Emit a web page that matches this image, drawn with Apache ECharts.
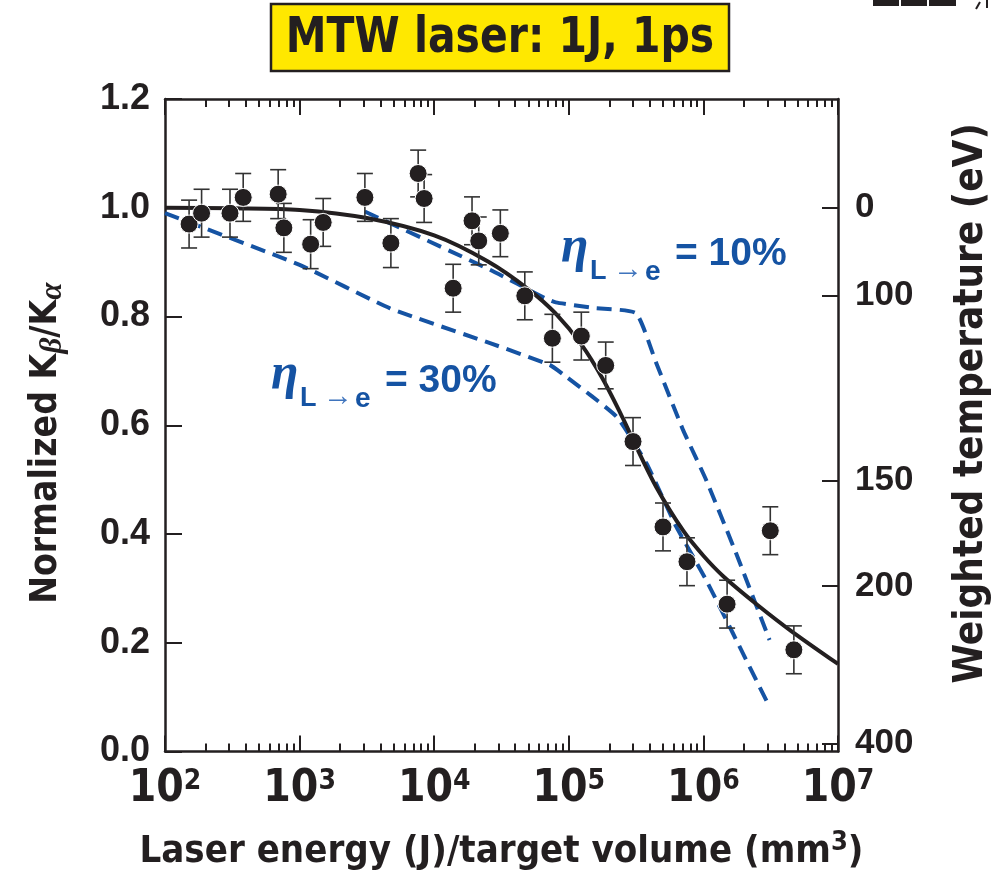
<!DOCTYPE html>
<html>
<head>
<meta charset="utf-8">
<script src="https://cdn.jsdelivr.net/npm/echarts@6/dist/echarts.min.js"></script>
<style>
  html, body { margin: 0; padding: 0; background: #fff; }
  #chart { width: 1000px; height: 875px; }
</style>
</head>
<body>
<div id="chart"></div>
<script>
// Measured normalized Kβ/Kα ratios vs. laser energy per target volume (J/mm^3)
const energyPerVolume = [151, 187, 304, 381, 693, 764, 1208, 1497, 3055, 4766, 7600, 8418,
  13830, 19100, 21420, 31000, 47100, 75500, 123900, 188000, 300000, 501000, 755000,
  1500000, 3140000, 4700000];
const ratio = [0.970, 0.990, 0.990, 1.019, 1.025, 0.963, 0.933, 0.973, 1.019, 0.935, 1.063, 1.017,
  0.852, 0.976, 0.939, 0.953, 0.838, 0.760, 0.764, 0.710, 0.570, 0.413, 0.349,
  0.271, 0.406, 0.187];
const ratioErr = [0.044, 0.044, 0.044, 0.044, 0.045, 0.045, 0.045, 0.044, 0.044, 0.045, 0.043, 0.044,
  0.044, 0.044, 0.044, 0.043, 0.044, 0.044, 0.044, 0.043, 0.044, 0.044, 0.044,
  0.044, 0.044, 0.044];

// Fitted trend through the measurements
const fitX = [100, 316, 1000, 3160, 10000, 25100, 50100, 79400, 126000, 178000, 251000, 316000,
  447000, 708000, 1000000, 1410000, 2510000, 4470000, 10000000];
const fitY = [1.000, 0.999, 0.996, 0.981, 0.949, 0.901, 0.850, 0.806, 0.746, 0.686, 0.614, 0.561,
  0.486, 0.406, 0.360, 0.322, 0.270, 0.222, 0.161];

// Model curves for two laser-to-electron conversion efficiencies
const eta10X = [3050, 26000, 66000, 80000, 150000, 316000, 447000, 707000, 1050000, 1750000, 3100000];
const eta10Y = [0.993, 0.886, 0.834, 0.826, 0.816, 0.806, 0.714, 0.591, 0.499, 0.3645, 0.205];
const eta30X = [100, 1000, 4700, 26000, 72000, 96000, 226000, 377000, 630000, 1050000, 1660000, 3100000];
const eta30Y = [0.990, 0.895, 0.815, 0.751, 0.711, 0.689, 0.616, 0.530, 0.413, 0.315, 0.217, 0.082];

// Axis ticks
const decadeTicks = [1e2, 1e3, 1e4, 1e5, 1e6, 1e7];
const yTicks = [0, 0.2, 0.4, 0.6, 0.8, 1.0, 1.2];
const tempLabels = ['0', '100', '150', '200', '400'];
const tempTickRatio = [1.0, 0.838, 0.498, 0.304, 0.015];

const minorTicks = [];
for (let d = 0; d < decadeTicks.length - 1; d++) {
  for (let k = 2; k <= 9; k++) minorTicks.push(k * decadeTicks[d]);
}

const INK = '#231f20';
const BLUE = '#1553a3';
const NARROW = "'Liberation Sans Narrow','DejaVu Sans Condensed','Roboto Condensed','Arial Narrow',sans-serif";
const SANS = "'Liberation Sans',Arial,Helvetica,sans-serif";
const SERIF = "'Liberation Serif','DejaVu Serif',serif";

const chart = echarts.init(document.getElementById('chart'), null, { renderer: 'canvas' });

function xLogAxis(position, ticks, tickLen, withLine, extra) {
  return Object.assign({
    type: 'log', logBase: 10, min: 100, max: 1e7, position: position,
    axisLine: { show: withLine, onZero: false, lineStyle: { color: INK, width: 2.5 } },
    axisTick: { show: true, inside: true, length: tickLen, customValues: ticks,
      lineStyle: { color: INK, width: 2 } },
    axisLabel: { show: false },
    splitLine: { show: false },
    minorTick: { show: false }
  }, extra || {});
}

const errorBarData = energyPerVolume.map((x, i) => [x, ratio[i] - ratioErr[i], ratio[i] + ratioErr[i]]);
const pointData = energyPerVolume.map((x, i) => [x, ratio[i]]);
const zip = (xs, ys) => xs.map((x, i) => [x, ys[i]]);

// η_{L→e} = N% annotation
function etaLabel(x0, y0, pct) {
  return {
    type: 'group', x: x0, y: y0, silent: true,
    children: [
      { type: 'text', x: 0, y: 6, style: { text: 'η', fill: BLUE, font: 'italic bold 50px ' + SERIF, textVerticalAlign: 'middle' } },
      { type: 'text', x: 29, y: 30, style: { text: 'L', fill: BLUE, font: 'bold 27px ' + SANS, textVerticalAlign: 'middle' } },
      { type: 'text', x: 52, y: 28, style: { text: '→', fill: '#3f74bd', font: '30px sans-serif', textVerticalAlign: 'middle' } },
      { type: 'text', x: 84, y: 30, style: { text: 'e', fill: BLUE, font: 'bold 28px ' + SANS, textVerticalAlign: 'middle' } },
      { type: 'text', x: 114, y: 12, style: { text: '= ' + pct, fill: BLUE, font: 'bold 39px ' + SANS, textVerticalAlign: 'middle' } }
    ]
  };
}

const option = {
  animation: false,
  backgroundColor: '#fff',
  grid: { left: 165, right: 162, top: 99, bottom: 123.5, containLabel: false, outerBoundsMode: 'none' },
  xAxis: [
    xLogAxis('bottom', decadeTicks, 16, true, {
      name: 'Laser energy (J)/target volume (mm{sup|3})',
      nameLocation: 'middle', nameGap: 78,
      nameTextStyle: {
        color: INK, fontFamily: NARROW, fontWeight: 'bold', fontSize: 38,
        rich: { sup: { fontFamily: NARROW, fontWeight: 'bold', fontSize: 27, color: INK, verticalAlign: 'top', padding: [0, 0, 18, 0] } }
      },
      axisLabel: {
        show: true, customValues: decadeTicks, margin: 16, color: INK,
        formatter: v => '{b|10}{s|' + Math.round(Math.log10(v)) + '}',
        rich: {
          b: { fontFamily: NARROW, fontWeight: 'bold', fontSize: 44, color: INK },
          s: { fontFamily: NARROW, fontWeight: 'bold', fontSize: 28, color: INK, verticalAlign: 'top', padding: [0, 0, 16, 0] }
        }
      }
    }),
    xLogAxis('bottom', minorTicks, 8, false),
    xLogAxis('top', decadeTicks, 16, true),
    xLogAxis('top', minorTicks, 8, false)
  ],
  yAxis: [
    {
      type: 'value', min: 0, max: 1.2, interval: 0.2, position: 'left',
      axisLine: { show: true, onZero: false, lineStyle: { color: INK, width: 2.5 } },
      axisTick: { show: true, inside: true, length: 17, customValues: yTicks, lineStyle: { color: INK, width: 2 } },
      axisLabel: { show: true, customValues: yTicks, margin: 15, color: INK, fontFamily: SANS, fontWeight: 'bold', fontSize: 36,
        formatter: v => v.toFixed(1) },
      splitLine: { show: false },
      name: 'Normalized K{i|β}/K{i|α}',
      nameLocation: 'middle', nameRotate: 90, nameGap: 97,
      nameTextStyle: {
        color: INK, fontFamily: NARROW, fontWeight: 'bold', fontSize: 37, padding: [0, 36, 0, 0],
        rich: { i: { fontFamily: SERIF, fontStyle: 'italic', fontSize: 31, color: INK, verticalAlign: 'bottom', padding: [12, 0, 0, 0] } }
      }
    },
    {
      type: 'value', min: 0, max: 1.2, position: 'right',
      axisLine: { show: true, onZero: false, lineStyle: { color: INK, width: 2.5 } },
      axisTick: { show: true, inside: true, length: 16, customValues: tempTickRatio, lineStyle: { color: INK, width: 2 } },
      axisLabel: { show: true, customValues: tempTickRatio, margin: 17, color: INK, fontFamily: SANS, fontWeight: 'bold', fontSize: 35,
        formatter: v => {
          const i = tempTickRatio.findIndex(p => Math.abs(p - v) < 1e-6);
          return i >= 0 ? tempLabels[i] : '';
        } },
      splitLine: { show: false },
      name: 'Weighted temperature (eV)',
      nameLocation: 'middle', nameRotate: 90, nameGap: 114,
      nameTextStyle: { color: INK, fontFamily: NARROW, fontWeight: 'bold', fontSize: 40, padding: [0, 0, 0, 44] }
    }
  ],
  series: [
    {
      name: 'η 30%', type: 'line', xAxisIndex: 0, yAxisIndex: 0,
      data: zip(eta30X, eta30Y), showSymbol: false, smooth: 0.15, z: 2,
      lineStyle: { color: BLUE, width: 4, type: [15, 8] }
    },
    {
      name: 'η 10%', type: 'line', xAxisIndex: 0, yAxisIndex: 0,
      data: zip(eta10X, eta10Y), showSymbol: false, smooth: 0.15, z: 2,
      lineStyle: { color: BLUE, width: 4, type: [15, 8] }
    },
    {
      name: 'fit', type: 'line', xAxisIndex: 0, yAxisIndex: 0,
      data: zip(fitX, fitY), showSymbol: false, smooth: 0.3, z: 3,
      lineStyle: { color: INK, width: 4 }
    },
    {
      name: 'error', type: 'custom', xAxisIndex: 0, yAxisIndex: 0, z: 4,
      data: errorBarData,
      renderItem: (params, api) => {
        const x = api.value(0);
        const lo = api.coord([x, api.value(1)]);
        const hi = api.coord([x, api.value(2)]);
        const half = 8;
        const style = { stroke: '#333333', lineWidth: 1.6, fill: null };
        return {
          type: 'group',
          children: [
            { type: 'line', shape: { x1: lo[0], y1: lo[1], x2: hi[0], y2: hi[1] }, style },
            { type: 'line', shape: { x1: lo[0] - half, y1: lo[1], x2: lo[0] + half, y2: lo[1] }, style },
            { type: 'line', shape: { x1: hi[0] - half, y1: hi[1], x2: hi[0] + half, y2: hi[1] }, style }
          ]
        };
      }
    },
    {
      name: 'data', type: 'scatter', xAxisIndex: 0, yAxisIndex: 0, z: 5,
      data: pointData, symbol: 'circle', symbolSize: 18,
      itemStyle: { color: INK, opacity: 1, borderColor: '#ffffff', borderWidth: 1 }
    }
  ],
  graphic: [
    {
      type: 'group', x: 271, y: 4, silent: true,
      children: [
        { type: 'rect', shape: { x: 0, y: 0, width: 458, height: 67 },
          style: { fill: '#ffe800', stroke: INK, lineWidth: 2.5 } },
        { type: 'text', x: 229, y: 35, scaleX: 0.91,
          style: { text: 'MTW laser: 1J, 1ps', fill: INK, font: 'bold 50px ' + NARROW,
            textAlign: 'center', textVerticalAlign: 'middle' } }
      ]
    },
    etaLabel(561, 242, '10%'),
    etaLabel(271, 369, '30%'),
    {
      type: 'group', x: 873, y: 0, silent: true,
      children: [
        { type: 'rect', shape: { x: 0, y: 0, width: 26, height: 6 }, style: { fill: INK } },
        { type: 'rect', shape: { x: 28, y: 0, width: 26, height: 6 }, style: { fill: INK } },
        { type: 'rect', shape: { x: 56, y: 0, width: 27, height: 6 }, style: { fill: INK } },
        { type: 'line', shape: { x1: 103, y1: 9, x2: 107, y2: 2 }, style: { stroke: INK, lineWidth: 2 } },
        { type: 'line', shape: { x1: 114, y1: 0, x2: 114, y2: 8 }, style: { stroke: INK, lineWidth: 2 } }
      ]
    }
  ]
};

chart.setOption(option);
</script>
</body>
</html>
